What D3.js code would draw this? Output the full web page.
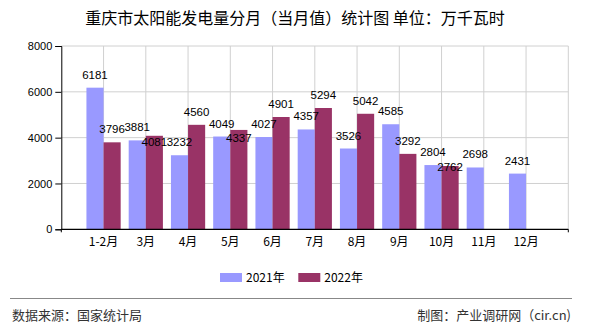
<!DOCTYPE html>
<html><head><meta charset="utf-8">
<script src="https://cdn.jsdelivr.net/npm/d3@7"></script>
<style>body{margin:0;background:#fff}svg{display:block}</style>
</head><body>
<script>
const title = "重庆市太阳能发电量分月（当月值）统计图 单位：万千瓦时";
const categories = ["1-2月","3月","4月","5月","6月","7月","8月","9月","10月","11月","12月"];
const series2021 = [6181,3881,3232,4049,4027,4357,3526,4585,2804,2698,2431];
const series2022 = [3796,4081,4560,4337,4901,5294,5042,3292,2762,null,null];
const seriesNames = ["2021年","2022年"];
const colors = ["#9999FF","#993366"];
const yTicks = [0,2000,4000,6000,8000];
const sourceText = "数据来源：国家统计局";
const makerText = "制图：产业调研网（cir.cn)";

(function () {
const W = 590, H = 330;
const svg = d3.select("body").append("svg").attr("width", W).attr("height", H);
const cjk = "'Noto Sans CJK SC','Noto Sans',sans-serif";
const num = "'Liberation Sans',Arial,sans-serif";

const pL = 61.3, pR = 568.3, pT = 46, pB = 229.3;
const x = d3.scaleLinear().domain([0, categories.length + 1]).range([pL, pR]);
const y = d3.scaleLinear().domain([0, 8000]).range([pB, pT]);
const step = x(1) - x(0);
const bw = step * 0.405;

// title
svg.append("text").attr("x", 295).attr("y", 24).attr("text-anchor", "middle")
  .attr("font-family", cjk).attr("font-size", 16).attr("fill", "#000").text(title);

// grid
const g = svg.append("g");
g.selectAll(".hg").data(yTicks.filter(d => d > 0)).join("line")
  .attr("x1", pL).attr("x2", pR).attr("y1", d => y(d)).attr("y2", d => y(d))
  .attr("stroke", "#d0d0d0").attr("stroke-width", 1);
g.selectAll(".vg").data(d3.range(1, categories.length + 2)).join("line")
  .attr("x1", d => x(d)).attr("x2", d => x(d)).attr("y1", pT).attr("y2", pB)
  .attr("stroke", "#d0d0d0").attr("stroke-width", 1);

// bars
const rows = categories.map((c, i) => ({c, i, a: series2021[i], b: series2022[i]}));
svg.selectAll(".b1").data(rows).join("rect")
  .attr("x", d => x(d.i + 1) - bw).attr("width", bw)
  .attr("y", d => y(d.a)).attr("height", d => y(0) - y(d.a)).attr("fill", colors[0]);
svg.selectAll(".b2").data(rows.filter(d => d.b != null)).join("rect")
  .attr("x", d => x(d.i + 1)).attr("width", bw)
  .attr("y", d => y(d.b)).attr("height", d => y(0) - y(d.b)).attr("fill", colors[1]);

// y axis
const ya = svg.append("g").attr("transform", `translate(${pL},0)`)
  .call(d3.axisLeft(y).tickValues(yTicks).tickSize(6).tickPadding(3).tickFormat(d3.format("d")));
ya.select(".domain").attr("stroke", "#000");
ya.selectAll(".tick line").attr("stroke", "#000");
ya.selectAll("text").attr("font-family", num).attr("font-size", 11).attr("fill", "#000");

// x axis
svg.append("line").attr("x1", pL).attr("x2", pR).attr("y1", pB).attr("y2", pB)
  .attr("stroke", "#000").attr("stroke-width", 1.2);
svg.selectAll(".xt").data([0, categories.length + 1]).join("line")
  .attr("x1", d => x(d)).attr("x2", d => x(d)).attr("y1", pB).attr("y2", pB + 3)
  .attr("stroke", "#000");
svg.selectAll(".xl").data(rows).join("text")
  .attr("x", d => x(d.i + 1)).attr("y", 246).attr("text-anchor", "middle")
  .attr("font-family", cjk).attr("font-size", 12).attr("fill", "#000").text(d => d.c);

// value labels with simple collision avoidance
const labels = [];
rows.forEach(d => labels.push({v: d.a, cx: x(d.i + 1) - bw / 2}));
rows.forEach(d => { if (d.b != null) labels.push({v: d.b, cx: x(d.i + 1) + bw / 2}); });
const placed = [];
labels.forEach(l => {
  const t = svg.append("text").attr("x", l.cx).attr("text-anchor", "middle")
    .attr("font-family", num).attr("font-size", 11.5).attr("fill", "#000").text(l.v);
  const w = t.node().getComputedTextLength() - 2;
  let base = y(l.v) - 9;
  const h = 9;
  let moved = true, guard = 0;
  while (moved && guard++ < 20) {
    moved = false;
    for (const p of placed) {
      const ox = (l.cx - w / 2) < p.x2 && (l.cx + w / 2) > p.x1;
      const oy = (base - h) < p.y2 && base > p.y1;
      if (ox && oy) { base = p.y2 + 14.5; moved = true; }
    }
  }
  t.attr("y", base);
  placed.push({x1: l.cx - w / 2, x2: l.cx + w / 2, y1: base - h, y2: base});
});

// legend
const lx = [220, 298.3];
seriesNames.forEach((n, i) => {
  svg.append("rect").attr("x", lx[i]).attr("y", 273).attr("width", 22).attr("height", 9).attr("fill", colors[i]);
  svg.append("text").attr("x", lx[i] + 26).attr("y", 282).attr("font-family", cjk)
    .attr("font-size", 12).attr("fill", "#000").text(n);
});

// footer
svg.append("line").attr("x1", 10).attr("x2", 572).attr("y1", 298.5).attr("y2", 298.5)
  .attr("stroke", "#888").attr("stroke-width", 1);
svg.append("text").attr("x", 12).attr("y", 320).attr("font-family", cjk).attr("font-size", 13)
  .attr("fill", "#333").text(sourceText);
svg.append("text").attr("x", 571).attr("y", 320).attr("text-anchor", "end").attr("font-family", cjk)
  .attr("font-size", 13).attr("fill", "#333").text(makerText);
})();
</script>
</body></html>
